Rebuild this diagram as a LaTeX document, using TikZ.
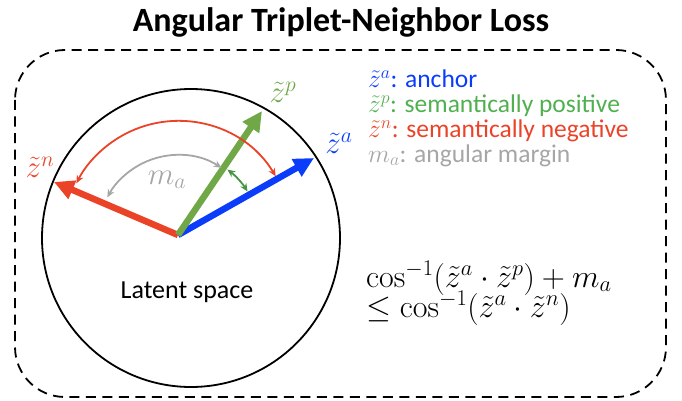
\RequirePackage{fix-cm}
\documentclass[tikz,border=0pt]{standalone}
\usepackage[no-math]{fontspec}
\setmainfont{Carlito}
\usetikzlibrary{arrows.meta}
\definecolor{cblue}{RGB}{10,60,250}
\definecolor{cgreen}{RGB}{112,168,72}
\definecolor{tgreen}{RGB}{80,176,80}
\definecolor{cred}{RGB}{234,67,40}
\definecolor{cgray}{RGB}{166,166,166}
\begin{document}
\begin{tikzpicture}[x=1pt,y=-1pt,
  vec/.style={line width=6.5pt,-{Triangle[length=20pt,width=19pt]}},
  arcs/.style={line width=1.8pt,{Stealth[length=8pt,width=7pt]}-{Stealth[length=8pt,width=7pt]}},
  lbl/.style={inner sep=0pt,font=\fontsize{31}{33}\selectfont},
  leg/.style={anchor=base west,inner sep=0pt,font=\fontsize{25.5}{27}\selectfont},
  eq/.style={anchor=base west,inner sep=0pt,font=\fontsize{32}{34}\selectfont}]
\useasboundingbox (0,0) rectangle (682,401);
\node[anchor=base,inner sep=0pt,font=\fontsize{34}{36}\selectfont\bfseries] (title) at (341,32) {Angular Triplet-Neighbor Loss};
\draw[line width=1.8pt,dash pattern=on 10pt off 6.5pt,rounded corners=50pt] (15,50) rectangle (666,397);
\draw[line width=1.8pt] (191,238) circle[radius=149];
\coordinate (o) at (178,235);
\coordinate (ta) at (314,158);
\coordinate (tp) at (262,111);
\coordinate (tn) at (54,182);
\draw[vec,cred] (o) -- (tn);
\draw[vec,cblue] (o) -- (ta);
\draw[vec,cgreen] (o) -- (tp);
\draw[arcs,cred] ([shift={(-31:114)}]o) arc[start angle=-31,end angle=-153,radius=114];
\draw[arcs,cgray] ([shift={(-57:80)}]o) arc[start angle=-57,end angle=-152,radius=80];
\draw[arcs,tgreen!85!black] ([shift={(-32:82)}]o) arc[start angle=-32,end angle=-53,radius=82];
\node[lbl,text=cblue] (la) at (339,143) {$\tilde{z}^{a}$};
\node[lbl,text=cgreen] (lp) at (283,92) {$\tilde{z}^{p}$};
\node[lbl,text=cred] (ln) at (40,167) {$\tilde{z}^{n}$};
\node[lbl,text=cgray] (lm) at (167,180) {$m_{a}$};
\node[anchor=base,inner sep=0pt,font=\fontsize{26}{28}\selectfont] (ls) at (187,298) {Latent space};
\node[leg,text=cblue] (l1) at (368,88) {$\tilde{z}^{a}$: anchor};
\node[leg,text=tgreen] (l2) at (368,113) {$\tilde{z}^{p}$: semantically positive};
\node[leg,text=cred] (l3) at (368,138) {$\tilde{z}^{n}$: semantically negative};
\node[leg,text=cgray] (l4) at (368,162) {$m_{a}$: angular margin};
\node[eq] (e1) at (366,287) {$\cos^{-1}(\tilde{z}^{a}\cdot\tilde{z}^{p})+m_{a}$};
\node[eq] (e2) at (366,317) {$\leq\cos^{-1}(\tilde{z}^{a}\cdot\tilde{z}^{n})$};
\end{tikzpicture}
\end{document}
